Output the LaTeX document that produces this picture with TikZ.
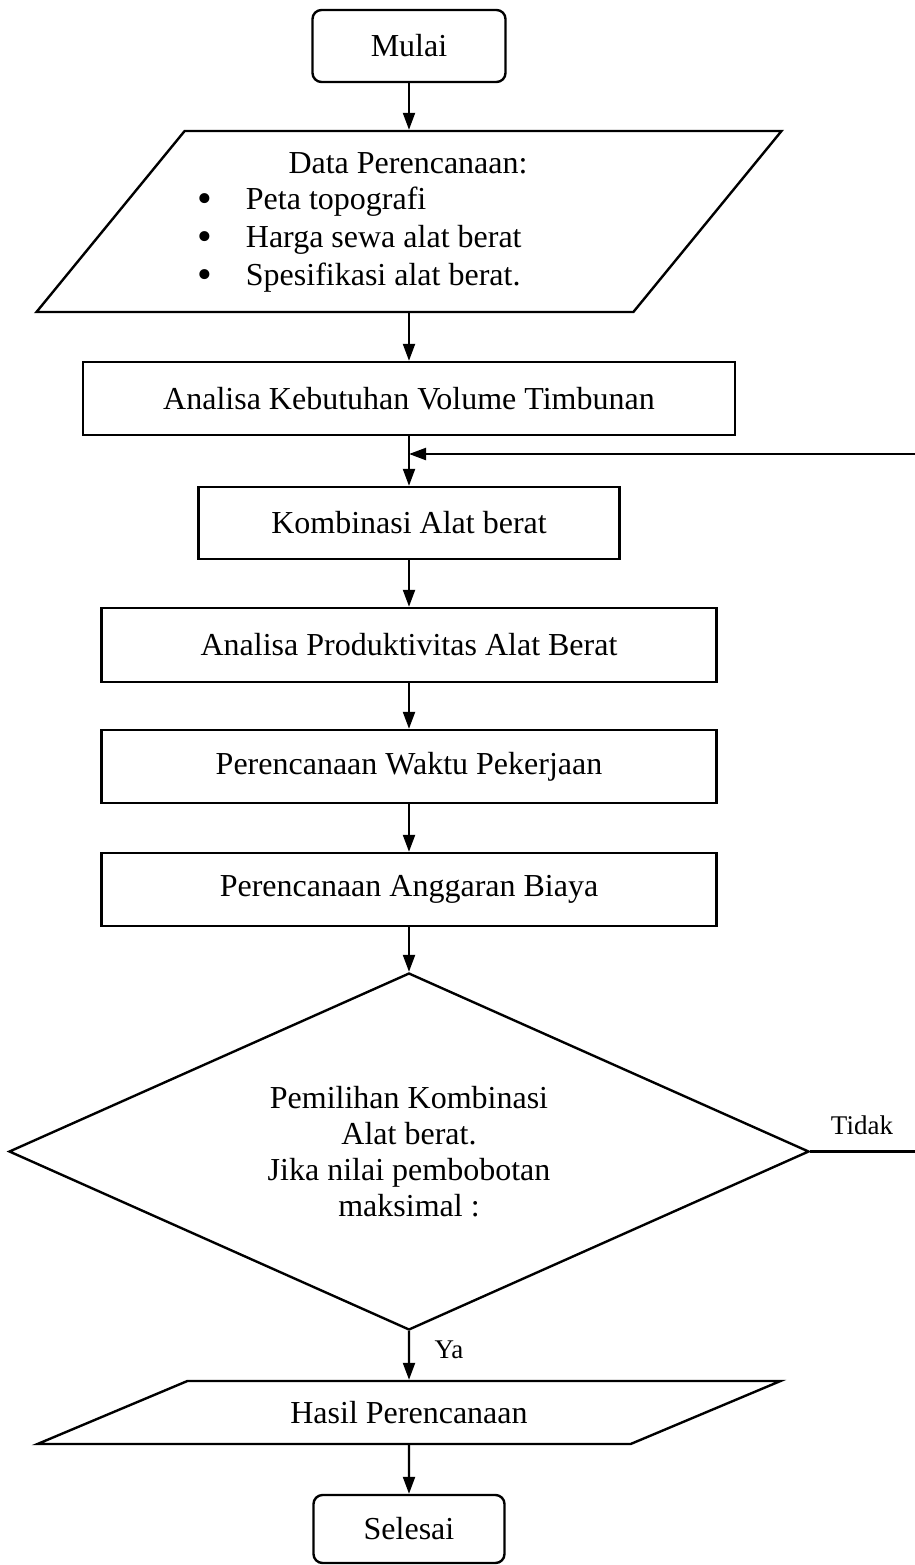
\documentclass[tikz,border=0pt]{standalone}
\usepackage{fontspec}
\setmainfont{Liberation Serif}
\usetikzlibrary{shapes.geometric,arrows.meta}

\newcommand{\itembul}{\raisebox{-3pt}{\fontsize{42}{38}\selectfont\textbullet}\hspace{34pt}}

\tikzset{
  every node/.style={font=\fontsize{32}{38}\selectfont},
  startstop/.style={draw, rectangle, rounded corners=9pt, line width=2.4pt, inner sep=0pt},
  process/.style={draw, rectangle, line width=2.4pt, inner sep=0pt},
  io/.style={draw, trapezium, trapezium stretches body=true, line width=2.4pt, inner sep=0pt},
  decision/.style={draw, diamond, aspect=2.24, line width=2.4pt, inner sep=0pt,
    align=center, font=\fontsize{32}{36}\selectfont},
  label/.style={font=\fontsize{27}{30}\selectfont, inner sep=0pt},
  flow/.style={line width=2.2pt}
}

\begin{document}
\begin{tikzpicture}[x=1pt, y=-1pt, >={Triangle[length=17pt,width=12pt]}]
  \useasboundingbox (0,0) rectangle (914,1565);

  % Define the blocks
  \node[startstop, minimum width=193pt, minimum height=72pt] (mulai) at (409,46) {Mulai};

  \node[io, trapezium left angle=50.7, trapezium right angle=129.3,
    text height=90.5pt, text depth=90.5pt, minimum width=745pt] (data) at (409,221.5) {};
  \node (datatitle) at (408,163) {Data Perencanaan:};
  \node[anchor=west, inner sep=0pt] (item1) at (197,202) {\itembul Peta topografi};
  \node[anchor=west, inner sep=0pt] (item2) at (197,240) {\itembul Harga sewa alat berat};
  \node[anchor=west, inner sep=0pt] (item3) at (197,278) {\itembul Spesifikasi alat berat.};

  \node[process, minimum width=652pt, minimum height=73pt] (volume) at (409,398.5) {Analisa Kebutuhan Volume Timbunan};
  \node[process, minimum width=421pt, minimum height=72pt] (kombinasi) at (409,523) {Kombinasi Alat berat};
  \node[process, minimum width=615pt, minimum height=74pt] (produktivitas) at (409,645) {Analisa Produktivitas Alat Berat};
  \node[process, minimum width=615pt, minimum height=73pt] (waktu) at (409,766.5) {Perencanaan Waktu Pekerjaan};
  \node[process, minimum width=615pt, minimum height=73pt] (anggaran) at (409,889.5) {Perencanaan Anggaran Biaya};

  \node[decision, minimum width=800pt, minimum height=357pt] (pilih) at (409,1151.5)
    {Pemilihan Kombinasi\\Alat berat.\\Jika nilai pembobotan\\maksimal :};

  \node[io, trapezium left angle=22.8, trapezium right angle=157.2,
    text height=42.5pt, text depth=20.5pt, minimum width=743pt] (hasil) at (409,1412.5) {Hasil Perencanaan};

  \node[startstop, minimum width=191pt, minimum height=68pt] (selesai) at (409,1529) {Selesai};

  \coordinate (loop) at (409,454);

  % Draw arrows
  \draw[->, flow] (mulai.south) -- (data.north);
  \draw[->, flow] (data.south) -- (volume.north);
  \draw[->, flow] (volume.south) -- (kombinasi.north);
  \draw[->, flow] (kombinasi.south) -- (produktivitas.north);
  \draw[->, flow] (produktivitas.south) -- (waktu.north);
  \draw[->, flow] (waktu.south) -- (anggaran.north);
  \draw[->, flow] (anggaran.south) -- (pilih.north);
  \draw[->, flow] (pilih.south) -- (hasil.north);
  \draw[->, flow] (hasil.south) -- (selesai.north);
  \draw[->, flow] (pilih.east) -- (918,1151.5) |- (loop);

  % Labels
  \node[label] (ya) at (449,1350) {Ya};
  \node[label] (tidak) at (862,1125) {Tidak};
\end{tikzpicture}
\end{document}
